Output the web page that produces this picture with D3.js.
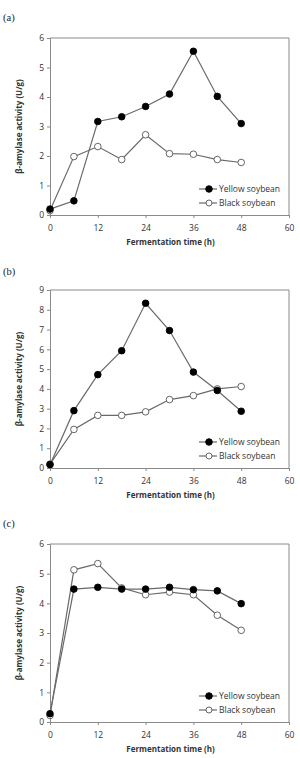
<!DOCTYPE html>
<html><head><meta charset="utf-8">
<script src="https://cdn.jsdelivr.net/npm/d3@7/dist/d3.min.js"></script>
<style>body{margin:0;background:#fff;}svg{display:block;}</style>
</head><body>
<svg id="c" width="300" height="758"></svg>
<script>
const hours = [0, 6, 12, 18, 24, 30, 36, 42, 48];
const xTicks = [0, 12, 24, 36, 48, 60];
const seriesNames = ["Yellow soybean", "Black soybean"];
const panelLabels = ["(a)", "(b)", "(c)"];
const yMaxes = [6, 9, 6];
const yellowA = [0.20, 0.48, 3.17, 3.33, 3.68, 4.10, 5.55, 4.02, 3.10];
const blackA  = [0.15, 1.98, 2.32, 1.88, 2.72, 2.08, 2.06, 1.88, 1.78];
const yellowB = [0.17, 2.90, 4.72, 5.93, 8.33, 6.95, 4.85, 3.92, 2.87];
const blackB  = [0.20, 1.95, 2.66, 2.66, 2.84, 3.46, 3.66, 4.00, 4.12];
const yellowC = [0.28, 4.48, 4.54, 4.48, 4.48, 4.54, 4.46, 4.42, 3.99];
const blackC  = [0.22, 5.13, 5.34, 4.52, 4.29, 4.38, 4.29, 3.60, 3.09];
const xTitle = "Fermentation time (h)";
const yTitle = "β-amylase activity (U/g)";

const panels = [
  {label: panelLabels[0], ymax: yMaxes[0], yellow: yellowA, black: blackA, top: 38, bottom: 215, labelY: 21},
  {label: panelLabels[1], ymax: yMaxes[1], yellow: yellowB, black: blackB, top: 290, bottom: 468, labelY: 275},
  {label: panelLabels[2], ymax: yMaxes[2], yellow: yellowC, black: blackC, top: 544, bottom: 722, labelY: 527}
];
const svg = d3.select("#c");
const left = 50, right = 289;
const font = "'Open Sans', sans-serif";
const axisColor = "#8a8a8a", lineColor = "#6a6a6a", textColor = "#333";

panels.forEach(p => {
  const g = svg.append("g");
  const x = d3.scaleLinear().domain([0, 60]).range([left, right]);
  const y = d3.scaleLinear().domain([0, p.ymax]).range([p.bottom, p.top]);

  g.append("text").attr("x", 3).attr("y", p.labelY).text(p.label)
    .attr("font-family", "'Liberation Serif', serif").attr("font-size", 10.5).attr("fill", "#222");

  // frame top & right
  g.append("path").attr("d", `M${left},${p.top}H${right}V${p.bottom}`)
    .attr("fill", "none").attr("stroke", axisColor).attr("stroke-width", 1);

  const yAxis = d3.axisLeft(y).ticks(p.ymax).tickSize(3).tickPadding(3);
  const ya = g.append("g").attr("transform", `translate(${left},0)`).call(yAxis);
  const xAxis = d3.axisBottom(x).tickValues(xTicks).tickSize(3).tickPadding(7);
  const xa = g.append("g").attr("transform", `translate(0,${p.bottom})`).call(xAxis);
  [ya, xa].forEach(a => {
    a.select(".domain").attr("stroke", axisColor);
    a.selectAll(".tick line").attr("stroke", axisColor);
    a.selectAll(".tick text").attr("font-family", font).attr("font-size", 8.5).attr("fill", textColor);
  });

  g.append("text").attr("x", (left + right) / 2 + 1).attr("y", p.bottom + 30)
    .attr("text-anchor", "middle").attr("font-family", font).attr("font-weight", "bold")
    .attr("font-size", 8).attr("fill", textColor).text(xTitle);
  g.append("text").attr("transform", `translate(22,${(p.top + p.bottom) / 2}) rotate(-90)`)
    .attr("text-anchor", "middle").attr("font-family", font).attr("font-weight", "bold")
    .attr("font-size", 8).attr("fill", textColor).text(yTitle);

  const line = d3.line().x((d, i) => x(hours[i])).y(d => y(d));
  const series = [{vals: p.black, fill: "#fff"}, {vals: p.yellow, fill: "#000"}];
  series.forEach(s => {
    g.append("path").attr("d", line(s.vals)).attr("fill", "none")
      .attr("stroke", lineColor).attr("stroke-width", 1.2);
  });
  series.forEach(s => {
    g.selectAll(null).data(s.vals).enter().append("circle")
      .attr("cx", (d, i) => x(hours[i])).attr("cy", d => y(d)).attr("r", 3.3)
      .attr("fill", s.fill).attr("stroke", s.fill === "#000" ? "#000" : "#555").attr("stroke-width", 0.9);
  });

  // legend
  const ly0 = p.bottom - 26;
  seriesNames.forEach((name, i) => {
    const ly = ly0 + i * 14;
    g.append("line").attr("x1", 199).attr("x2", 217).attr("y1", ly).attr("y2", ly)
      .attr("stroke", lineColor).attr("stroke-width", 1.2);
    g.append("circle").attr("cx", 209).attr("cy", ly).attr("r", i === 0 ? 3.3 : 3)
      .attr("fill", i === 0 ? "#000" : "#fff").attr("stroke", i === 0 ? "#000" : "#555").attr("stroke-width", 0.9);
    g.append("text").attr("x", 219).attr("y", ly + 3).attr("font-family", font)
      .attr("font-size", 8.5).attr("fill", textColor).text(name);
  });
});
</script>
</body></html>
